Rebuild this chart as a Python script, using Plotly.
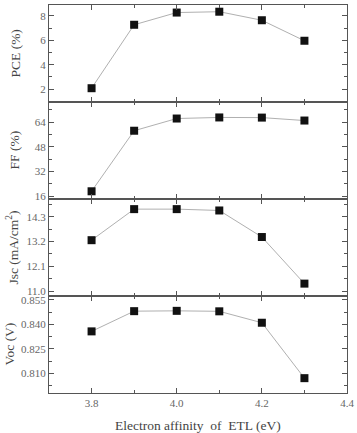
import plotly.graph_objects as go
from plotly.subplots import make_subplots

# Afinidade eletrônica da ETL (eV)
chi = [3.8, 3.9, 4.0, 4.1, 4.2, 4.3]

pce = [2.08, 7.28, 8.28, 8.35, 7.65, 5.97]
ff = [19.2, 58.4, 66.3, 67.0, 66.9, 65.0]
jsc = [13.26, 14.64, 14.64, 14.58, 13.40, 11.33]
voc = [0.8357, 0.8481, 0.8483, 0.8480, 0.8410, 0.8070]

titulos = ["PCE (%)", "FF (%)", "Jsc (mA/cm<sup>2</sup>)", "Voc (V)"]
series = [pce, ff, jsc, voc]

xticks = [3.8, 4.0, 4.2, 4.4]
xlabels = ['3.8', '4.0', '4.2', '4.4']

fig = make_subplots(rows=4, cols=1, shared_xaxes=True, vertical_spacing=0)

for i, ys in enumerate(series):
    fig.add_trace(go.Scatter(
        x=chi, y=ys, mode='lines+markers',
        line=dict(color='#b0b0b0', width=1),
        marker=dict(symbol='square', size=8, color='#111111'),
        showlegend=False
    ), row=i + 1, col=1)

serif = 'Liberation Serif, Times New Roman, serif'

eixo = dict(
    showline=True, linecolor='#555555', linewidth=1,
    mirror='ticks', ticks='inside', ticklen=5, tickcolor='#555555',
    showgrid=False, zeroline=False,
    tickfont=dict(family=serif, size=11, color='#666666'),
)

# Eixos y de cada painel
yconf = [
    dict(range=[0.95, 8.9], tickvals=[2, 4, 6, 8], minor=dict(dtick=1, tick0=0)),
    dict(range=[14.2, 77], tickvals=[16, 32, 48, 64], minor=dict(dtick=8, tick0=0)),
    dict(range=[10.78, 15.09], tickvals=[11.0, 12.1, 13.2, 14.3], ticktext=['11.0', '12.1', '13.2', '14.3'],
         minor=dict(dtick=0.55, tick0=11.0)),
    dict(range=[0.7979, 0.8574], tickvals=[0.810, 0.825, 0.840, 0.855],
         ticktext=['0.810', '0.825', '0.840', '0.855'], minor=dict(dtick=0.0075, tick0=0.81)),
]

# posição horizontal (px à esquerda do eixo) de cada título
desloc = [-34, -35, -36, -40]

for i, yc in enumerate(yconf):
    yc['minor'].update(ticks='inside', ticklen=3, tickcolor='#555555')
    fig.update_yaxes(**eixo, **yc, row=i + 1, col=1)
    fig.update_xaxes(
        **eixo, range=[3.7, 4.4], tickvals=xticks, ticktext=xlabels,
        minor=dict(dtick=0.1, tick0=3.7, ticks='inside', ticklen=3, tickcolor='#555555'),
        row=i + 1, col=1
    )

# títulos dos eixos y como anotações (posição fixa)
for i in range(4):
    yref = 'y domain' if i == 0 else 'y%d domain' % (i + 1)
    fig.add_annotation(
        text=titulos[i], xref='paper', yref=yref, x=0, y=0.5,
        xshift=desloc[i], textangle=-90, showarrow=False,
        xanchor='center', yanchor='middle',
        font=dict(family=serif, size=13.5, color='#444444')
    )

fig.add_annotation(
    text='Electron affinity  of  ETL (eV)', xref='paper', yref='paper',
    x=0.5, y=0, yshift=-32, showarrow=False, xanchor='center', yanchor='middle',
    font=dict(family=serif, size=13.5, color='#444444')
)

fig.update_layout(
    width=357, height=433,
    margin=dict(l=49, r=10, t=3, b=40),
    paper_bgcolor='white', plot_bgcolor='white',
    font=dict(family=serif),
)

# tira a margem padrão do body para a figura ocupar a janela toda
fig.write_html("out.html", config={'displayModeBar': False},
               post_script="document.body.style.margin='0';document.body.style.overflow='hidden';")
